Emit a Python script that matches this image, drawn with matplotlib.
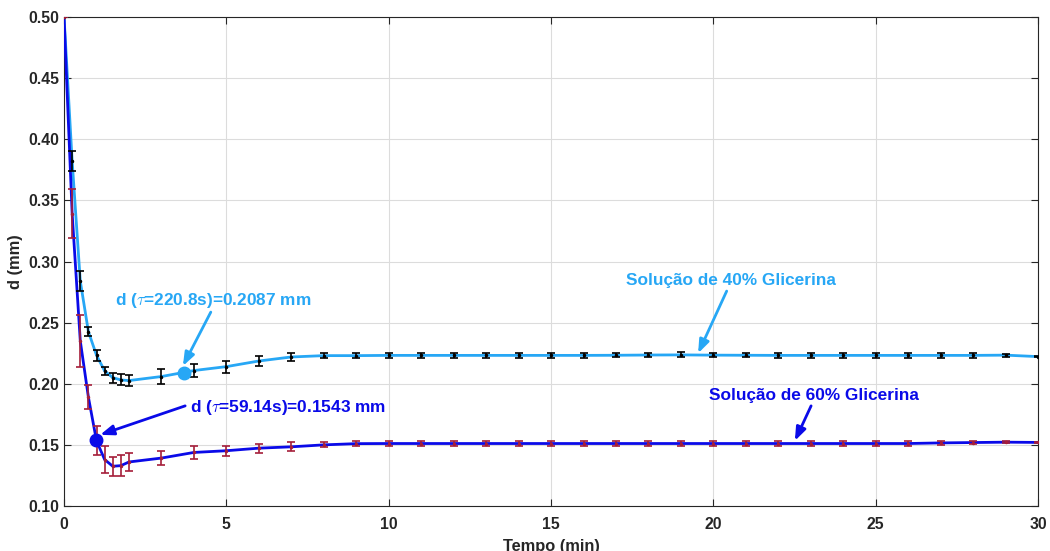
import numpy as np
import matplotlib
matplotlib.use('Agg')
import matplotlib.pyplot as plt

plt.rcParams['font.family'] = ['Liberation Sans', 'DejaVu Sans']
plt.rcParams['font.weight'] = 'bold'
plt.rcParams['mathtext.fontset'] = 'cm'

# tempo (min)
t = [0, 0.25, 0.5, 0.75, 1, 1.25, 1.5, 1.75, 2, 3, 4, 5, 6, 7, 8, 9, 10,
     11, 12, 13, 14, 15, 16, 17, 18, 19, 20, 21, 22, 23, 24, 25, 26, 27,
     28, 29, 30]

# Solucao de 40% glicerina
d40 = [0.500, 0.382, 0.284, 0.2426, 0.2233, 0.2105, 0.2050, 0.2031, 0.2026,
       0.2059, 0.2108, 0.2140, 0.2186, 0.2219, 0.2230, 0.2230, 0.2232,
       0.2232, 0.2232, 0.2232, 0.2232, 0.2232, 0.2232, 0.2233, 0.2235,
       0.2236, 0.2234, 0.2233, 0.2232, 0.2232, 0.2232, 0.2232, 0.2232,
       0.2232, 0.2232, 0.2234, 0.2222]
e40 = [0.0, 0.008, 0.008, 0.0037, 0.0044, 0.0034, 0.004, 0.0045, 0.0042,
       0.006, 0.005, 0.005, 0.0037, 0.003, 0.002, 0.0018, 0.0018, 0.0018,
       0.0018, 0.0018, 0.0018, 0.0018, 0.0018, 0.0018, 0.0018, 0.0020,
       0.0018, 0.0018, 0.0018, 0.0018, 0.0018, 0.0018, 0.0018, 0.0018,
       0.0018, 0.0012, 0.0005]

# Solucao de 60% glicerina
d60 = [0.500, 0.339, 0.235, 0.189, 0.1533, 0.1380, 0.1325, 0.1330, 0.1360,
       0.1392, 0.1438, 0.1452, 0.1473, 0.1484, 0.1500, 0.1510, 0.1511,
       0.1511, 0.1511, 0.1511, 0.1511, 0.1511, 0.1511, 0.1511, 0.1511,
       0.1511, 0.1511, 0.1511, 0.1511, 0.1511, 0.1511, 0.1511, 0.1511,
       0.1516, 0.1519, 0.1522, 0.1520]
e60 = [0.0, 0.020, 0.021, 0.010, 0.012, 0.011, 0.0076, 0.0084, 0.007,
       0.006, 0.005, 0.004, 0.0037, 0.0037, 0.002, 0.0018, 0.0018, 0.0018,
       0.0018, 0.0018, 0.0018, 0.0018, 0.0018, 0.0018, 0.0018, 0.0018,
       0.0018, 0.0018, 0.0018, 0.0018, 0.0018, 0.0018, 0.0018, 0.0014,
       0.0012, 0.0010, 0.0005]

tau40, dtau40 = 220.8 / 60, 0.2087
tau60, dtau60 = 59.14 / 60, 0.1543

c40 = '#27a7f5'
c60 = '#0a0ae8'
cred = '#a51e3a'

fig = plt.figure(figsize=(10.5, 5.51), dpi=100)
ax = fig.add_axes([0.061, 0.0817, 0.9276, 0.8874])

ax.plot(t, d40, color=c40, lw=2, zorder=3)
ax.errorbar(t, d40, yerr=e40, fmt='.', color='k', ms=3, capsize=3,
            elinewidth=1.2, capthick=1.2, zorder=4)
ax.plot(t, d60, color=c60, lw=2, zorder=3)
ax.errorbar(t, d60, yerr=e60, fmt='.', color=cred, ms=3, capsize=3,
            elinewidth=1.2, capthick=1.2, zorder=4)

ax.plot(tau40, dtau40, 'o', color=c40, ms=9, zorder=5)
ax.plot(tau60, dtau60, 'o', color=c60, ms=9, zorder=5)

fs = 12.4
ax.text(1.57, 0.2682, r'd ($\tau$=220.8s)=0.2087 mm', color=c40,
        fontsize=fs, fontweight='bold', va='center')
ax.text(3.88, 0.1808, r'd ($\tau$=59.14s)=0.1543 mm', color=c60,
        fontsize=fs, fontweight='bold', va='center')
ax.text(17.31, 0.2845, 'Solução de 40% Glicerina', color=c40,
        fontsize=fs, fontweight='bold', va='center')
ax.text(19.86, 0.1906, 'Solução de 60% Glicerina', color=c60,
        fontsize=fs, fontweight='bold', va='center')

arrows = [((4.52, 0.2586), (3.66, 0.2145), c40),
          ((3.73, 0.1819), (1.11, 0.1582), c60),
          ((20.41, 0.2758), (19.53, 0.2249), c40),
          ((23.01, 0.1819), (22.51, 0.1533), c60)]
for start, end, col in arrows:
    ax.annotate('', xy=end, xytext=start,
                arrowprops=dict(arrowstyle='-|>,head_length=0.8,head_width=0.3',
                                color=col, lw=2, shrinkA=0, shrinkB=0))

ax.set_xlim(0, 30)
ax.set_ylim(0.10, 0.50)
ax.set_xticks(np.arange(0, 31, 5))
ax.set_yticks(np.arange(0.10, 0.501, 0.05))
ax.set_yticklabels(['%.2f' % v for v in np.arange(0.10, 0.501, 0.05)])
ax.grid(True, color='#dcdcdc', lw=0.8)
ax.set_axisbelow(True)
ax.tick_params(direction='in', length=5, top=True, right=True,
               labelsize=11.3, colors='#262626', width=0.8)
ax.tick_params(axis='x', pad=8)
for lab in ax.get_xticklabels() + ax.get_yticklabels():
    lab.set_fontweight('bold')
for sp in ax.spines.values():
    sp.set_color('#262626')
    sp.set_linewidth(0.8)

ax.set_xlabel('Tempo (min)', fontsize=11.8, fontweight='bold', color='#262626',
              labelpad=5)
ax.set_ylabel('d (mm)', fontsize=11.8, fontweight='bold', color='#262626',
              labelpad=4)

fig.savefig('out.png', dpi=100)
